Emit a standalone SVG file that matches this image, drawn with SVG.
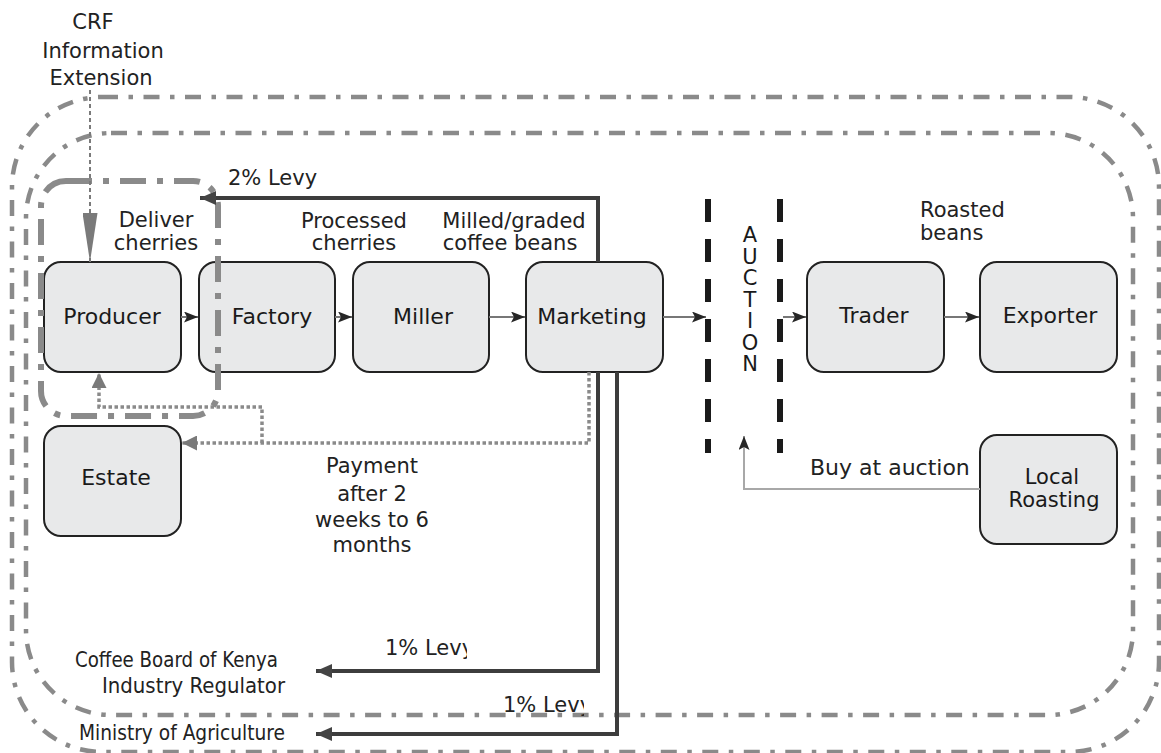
<svg xmlns="http://www.w3.org/2000/svg" width="1161" height="753" viewBox="0 0 1161 753">
<style>
.bound{fill:none;stroke:#8a8a8a;stroke-width:4.5;stroke-dasharray:16 10.5 4.5 10.5}
.prod{fill:none;stroke:#8a8a8a;stroke-width:6;stroke-dasharray:26 11 6 11}
.node rect{fill:#e8e9ea;stroke:#222;stroke-width:2}
.nl{font-family:"DejaVu Sans",sans-serif;font-size:22px;fill:#1a1a1a;text-anchor:middle}
.al{font-family:"DejaVu Sans",sans-serif;font-size:21px;fill:#222}
.mid{text-anchor:middle}
.flow{fill:none;stroke:#777;stroke-width:2}
.levy{fill:none;stroke:#3d3d3d;stroke-width:4}
.pay{fill:none;stroke:#8a8a8a;stroke-width:3.5;stroke-dasharray:3.5 2.5}
.auc{fill:none;stroke:#1a1a1a;stroke-width:6;stroke-dasharray:23 17}
.vert{font-family:"DejaVu Sans",sans-serif;font-size:21px;fill:#1a1a1a;writing-mode:vertical-rl;text-orientation:upright}
</style>
<defs>
<marker id="ah" viewBox="0 0 14 11" refX="14" refY="5.5" markerWidth="14" markerHeight="11" markerUnits="userSpaceOnUse" orient="auto">
<path d="M0,0 L14,5.5 L0,11 L3,5.5 z" fill="#262626"/>
</marker>
<marker id="ahL" viewBox="0 0 16 14" refX="16" refY="7" markerWidth="16" markerHeight="14" markerUnits="userSpaceOnUse" orient="auto">
<path d="M0,0 L16,7 L0,14 z" fill="#444"/>
</marker>
<marker id="ahG" viewBox="0 0 15 15" refX="15" refY="7.5" markerWidth="15" markerHeight="15" markerUnits="userSpaceOnUse" orient="auto">
<path d="M0,0 L15,7.5 L0,15 z" fill="#7a7a7a"/>
</marker>
<marker id="ahC" viewBox="0 0 49 15" refX="49" refY="7.5" markerWidth="49" markerHeight="15" markerUnits="userSpaceOnUse" orient="auto">
<path d="M0,0 L49,7.5 L0,15 z" fill="#7a7a7a"/>
</marker>
<clipPath id="c1"><rect x="370" y="620" width="97" height="50"/></clipPath>
<clipPath id="c2"><rect x="490" y="680" width="94" height="50"/></clipPath>
</defs>
<rect width="1161" height="753" fill="#fff"/>

<g id="boundaries">
<rect class="bound" x="12" y="97" width="1147" height="655" rx="90" ry="90"/>
<rect class="bound" x="26" y="133" width="1107" height="582" rx="85" ry="85"/>
</g>

<g id="auction">
<line class="auc" x1="708" y1="199" x2="708" y2="453"/>
<line class="auc" x1="780" y1="199" x2="780" y2="453"/>
<text class="vert" x="750" y="223" textLength="153" lengthAdjust="spacing">AUCTION</text>
</g>

<g id="producer" class="node"><rect x="44" y="262" width="137" height="110" rx="17"/><text class="nl" x="112" y="324">Producer</text></g>
<g id="factory" class="node"><rect x="199" y="262" width="136" height="110" rx="17"/><text class="nl" x="272" y="324">Factory</text></g>
<g id="miller" class="node"><rect x="353" y="262" width="136" height="110" rx="17"/><text class="nl" x="423" y="324">Miller</text></g>
<g id="marketing" class="node"><rect x="526" y="262" width="137" height="110" rx="17"/><text class="nl" x="592" y="324">Marketing</text></g>
<g id="trader" class="node"><rect x="807" y="262" width="137" height="110" rx="17"/><text class="nl" x="874" y="323">Trader</text></g>
<g id="exporter" class="node"><rect x="980" y="262" width="137" height="110" rx="17"/><text class="nl" x="1050" y="323">Exporter</text></g>
<g id="estate" class="node"><rect x="44" y="426" width="137" height="110" rx="17"/><text class="nl" x="116" y="485">Estate</text></g>
<g id="localroasting" class="node"><rect x="980" y="435" width="137" height="109" rx="17"/><text class="nl" x="1052" y="484" style="font-size:21px">Local</text><text class="nl" x="1054" y="507" style="font-size:21px">Roasting</text></g>

<g id="producer-boundary">
<rect class="prod" x="41" y="181" width="177" height="235" rx="25" ry="25"/>
</g>

<g id="connectors">
<line class="flow" x1="181" y1="317" x2="198" y2="317" marker-end="url(#ah)"/>
<line class="flow" x1="335" y1="317" x2="352" y2="317" marker-end="url(#ah)"/>
<line class="flow" x1="489" y1="317" x2="525" y2="317" marker-end="url(#ah)"/>
<line class="flow" x1="663" y1="317" x2="706" y2="317" marker-end="url(#ah)"/>
<line class="flow" x1="783" y1="317" x2="806" y2="317" marker-end="url(#ah)"/>
<line class="flow" x1="944" y1="317" x2="979" y2="317" marker-end="url(#ah)"/>
<path d="M980,489 H744 V436" fill="none" stroke="#a8a8a8" stroke-width="2" marker-end="url(#ah)"/>
<path class="levy" d="M598,262 V198 H200" marker-end="url(#ahL)"/>
<path class="levy" d="M598,372 V671 H316" marker-end="url(#ahL)"/>
<path class="levy" d="M617,372 V734 H316" marker-end="url(#ahL)"/>
<path class="pay" d="M589,372 V443 H182" marker-end="url(#ahG)"/>
<path class="pay" d="M262,443 V407 H99 V373" marker-end="url(#ahG)"/>
<line x1="90" y1="90" x2="90" y2="262" stroke="#7a7a7a" stroke-width="2" stroke-dasharray="4 3" marker-end="url(#ahC)"/>
</g>

<g id="labels">
<text class="al mid" x="93" y="29">CRF</text>
<text class="al mid" x="103" y="58">Information</text>
<text class="al mid" x="101" y="85">Extension</text>
<text class="al" x="228" y="185">2% Levy</text>
<text class="al mid" x="156" y="227">Deliver</text>
<text class="al mid" x="156" y="250">cherries</text>
<text class="al mid" x="354" y="228">Processed</text>
<text class="al mid" x="354" y="250">cherries</text>
<text class="al mid" x="514" y="228">Milled/graded</text>
<text class="al mid" x="510" y="250">coffee beans</text>
<text class="al" x="920" y="217">Roasted</text>
<text class="al" x="920" y="240">beans</text>
<text class="al" x="810" y="475" style="font-size:22px">Buy at auction</text>
<text class="al mid" x="372" y="473">Payment</text>
<text class="al mid" x="372" y="501">after 2</text>
<text class="al mid" x="372" y="527">weeks to 6</text>
<text class="al mid" x="372" y="552">months</text>
<text class="al" x="385" y="655" clip-path="url(#c1)">1% Levy</text>
<text class="al" x="503" y="712" clip-path="url(#c2)">1% Levy</text>
<text class="al" x="75" y="667" style="font-size:21px" textLength="203" lengthAdjust="spacingAndGlyphs">Coffee Board of Kenya</text>
<text class="al" x="102" y="693" style="font-size:21px" textLength="183" lengthAdjust="spacingAndGlyphs">Industry Regulator</text>
<text class="al" x="79" y="740" style="font-size:21px" textLength="206" lengthAdjust="spacingAndGlyphs">Ministry of Agriculture</text>
</g>
</svg>
